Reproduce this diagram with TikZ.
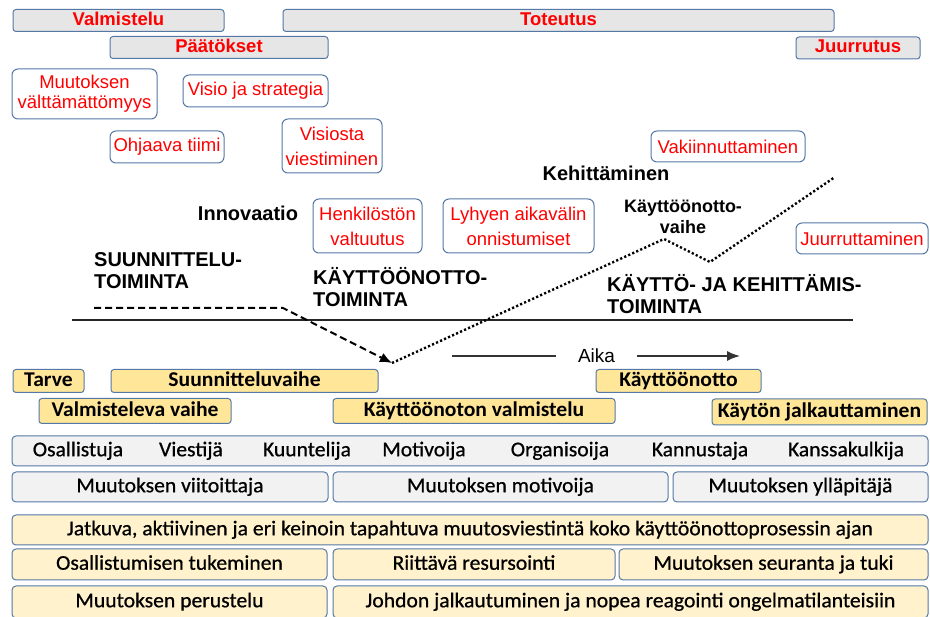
\documentclass[tikz,border=0pt]{standalone}
\usepackage{fontspec}
\setmainfont{Liberation Sans}
\newfontfamily\calfont[FakeStretch=1.03]{Carlito}
\newfontfamily\calmid[FakeStretch=1.03,FakeBold=0.7]{Carlito}
\usetikzlibrary{arrows.meta}
\definecolor{otblue}{RGB}{84,120,165}
\definecolor{otgray}{RGB}{230,230,230}
\definecolor{otlight}{RGB}{242,242,242}
\definecolor{otyellow}{RGB}{255,230,153}
\definecolor{otcream}{RGB}{255,242,204}
\definecolor{otred}{RGB}{255,0,0}

\begin{document}
\begin{tikzpicture}[x=1pt,y=-1pt,
  bar/.style={draw=otblue,fill=otgray,rounded corners=3pt,line width=1pt,inner sep=0pt,text=otred,
    font=\bfseries\fontsize{18.5}{22}\selectfont,text height=13.5pt,text depth=4pt,minimum height=22pt},
  note/.style={draw=otblue,fill=white,rounded corners=6pt,line width=1pt,inner sep=0pt,align=center,text=otred,
    font=\fontsize{18.5}{25}\selectfont},
  lbl/.style={inner sep=0pt,align=left,font=\bfseries\fontsize{20}{22}\selectfont},
  stage/.style={draw=otblue,fill=otyellow,rounded corners=3pt,line width=1pt,inner sep=0pt,
    font=\calfont\bfseries\fontsize{21}{23}\selectfont,text height=14.5pt,text depth=4pt,minimum height=23pt},
  rolebox/.style={draw=otblue,fill=otlight,rounded corners=4pt,line width=1pt,inner sep=0pt,
    font=\calmid\fontsize{21}{23}\selectfont,text height=14.5pt,text depth=4pt,minimum height=30pt},
  pale/.style={rolebox,fill=otcream},
  word/.style={inner sep=0pt,font=\calmid\fontsize{21}{23}\selectfont,text height=14.5pt,text depth=4pt}]

\useasboundingbox (0,0) rectangle (930,617);

% phase bars at the top
\node[bar,minimum width=211pt] (valm) at (118.5,20.5) {Valmistelu};
\node[bar,minimum width=551pt] (toteu) at (558.5,20.5) {Toteutus};
\node[bar,minimum width=218pt] (paat) at (219,47.5) {Päätökset};
\node[bar,minimum width=124pt] (juur) at (858,48) {Juurrutus};

% steps of the change
\node[note,minimum width=145pt,minimum height=50pt,font=\fontsize{18.5}{20}\selectfont] (valtt) at (84.5,94) {Muutoksen\\välttämättömyys};
\node[note,minimum width=145pt,minimum height=32pt] (visio) at (255.5,91) {Visio ja strategia};
\node[note,minimum width=114pt,minimum height=32pt] (ohj) at (167,147) {Ohjaava tiimi};
\node[note,minimum width=100pt,minimum height=54pt] (vies) at (332,146) {Visiosta\\viestiminen};
\node[note,minimum width=109pt,minimum height=54pt] (henk) at (367.5,226) {Henkilöstön\\valtuutus};
\node[note,minimum width=151pt,minimum height=54pt] (lyhy) at (518.5,226) {Lyhyen aikavälin\\onnistumiset};
\node[note,minimum width=154pt,minimum height=31pt] (vaki) at (728,146.5) {Vakiinnuttaminen};
\node[note,minimum width=132pt,minimum height=31pt] (juurt) at (862,238.5) {Juurruttaminen};

% activity labels
\node[lbl] (innov) at (248,213) {Innovaatio};
\node[lbl] (kehit) at (606,173) {Kehittäminen};
\node[lbl,align=center,font=\bfseries\fontsize{18}{21}\selectfont] (kvaihe) at (683,216.5) {Käyttöönotto-\\vaihe};
\node[lbl,anchor=west] (suun) at (94,271) {SUUNNITTELU-\\TOIMINTA};
\node[lbl,anchor=west] (kayt) at (313,287.5) {KÄYTTÖÖNOTTO-\\TOIMINTA};
\node[lbl,anchor=west] (ktoim) at (607,294) {KÄYTTÖ- JA KEHITTÄMIS-\\TOIMINTA};

% process curve
\coordinate (base0) at (72,320);
\coordinate (base1) at (853,320);
\coordinate (dstart) at (94,308);
\coordinate (dbend) at (283,308);
\coordinate (low) at (392,363);
\coordinate (peak) at (664,239);
\coordinate (dip) at (710,262);
\coordinate (dend) at (835,177);
\draw[line width=1.5pt,black!85] (base0) -- (base1);
\draw[line width=2pt,dash pattern=on 7pt off 4pt,-{Latex[length=12pt,width=10pt]}] (dstart) -- (dbend) -- (low);
\draw[line width=2.4pt,dash pattern=on 2.2pt off 2.2pt] (low) -- (peak) -- (dip) -- (dend);

% time axis
\node[inner xsep=22pt,inner ysep=0pt,font=\fontsize{19}{22}\selectfont] (aika) at (596.5,356) {Aika};
\coordinate (tstart) at (452,356);
\coordinate (tend) at (740,356);
\draw[line width=1.5pt,black!80] (tstart) -- (aika.west);
\draw[line width=1.5pt,black!80,-{Latex[length=13pt,width=10pt]}] (aika.east) -- (tend);

% implementation stages
\node[stage,minimum width=71pt] (tarve) at (48.5,381) {Tarve};
\node[stage,minimum width=267pt] (suunv) at (244.5,381) {Suunnitteluvaihe};
\node[stage,minimum width=165pt] (kotto) at (678.5,381) {Käyttöönotto};
\node[stage,minimum width=192pt,minimum height=25pt] (valmv) at (135,411) {Valmisteleva vaihe};
\node[stage,minimum width=282pt,minimum height=25pt] (kvalm) at (474,411) {Käyttöönoton valmistelu};
\node[stage,minimum width=215pt,minimum height=26pt] (kjalk) at (819.5,412) {Käytön jalkauttaminen};

% roles
\node[rolebox,minimum width=916pt] (roles) at (470,451) {};
\node[word] (r1) at (78,451) {Osallistuja};
\node[word] (r2) at (191,451) {Viestijä};
\node[word] (r3) at (307,451) {Kuuntelija};
\node[word] (r4) at (424,451) {Motivoija};
\node[word] (r5) at (560,451) {Organisoija};
\node[word] (r6) at (700,451) {Kannustaja};
\node[word] (r7) at (846,451) {Kanssakulkija};
\node[rolebox,minimum width=316pt] (viit) at (170,487) {Muutoksen viitoittaja};
\node[rolebox,minimum width=335pt] (motiv) at (500.5,487) {Muutoksen motivoija};
\node[rolebox,minimum width=255pt] (yllap) at (800.5,487) {Muutoksen ylläpitäjä};

% success factors
\node[pale,minimum width=916pt] (jatk) at (470,530) {Jatkuva, aktiivinen ja eri keinoin tapahtuva muutosviestintä koko käyttöönottoprosessin ajan};
\node[pale,minimum width=315pt,minimum height=31pt] (osal) at (169.5,564.5) {Osallistumisen tukeminen};
\node[pale,minimum width=282pt,minimum height=31pt] (riit) at (474,564.5) {Riittävä resursointi};
\node[pale,minimum width=309pt,minimum height=31pt] (seur) at (773.5,564.5) {Muutoksen seuranta ja tuki};
\node[pale,minimum width=315pt,minimum height=32pt] (peru) at (169.5,602) {Muutoksen perustelu};
\node[pale,minimum width=595pt,minimum height=32pt] (johd) at (630.5,602) {Johdon jalkautuminen ja nopea reagointi ongelmatilanteisiin};
\end{tikzpicture}
\end{document}
